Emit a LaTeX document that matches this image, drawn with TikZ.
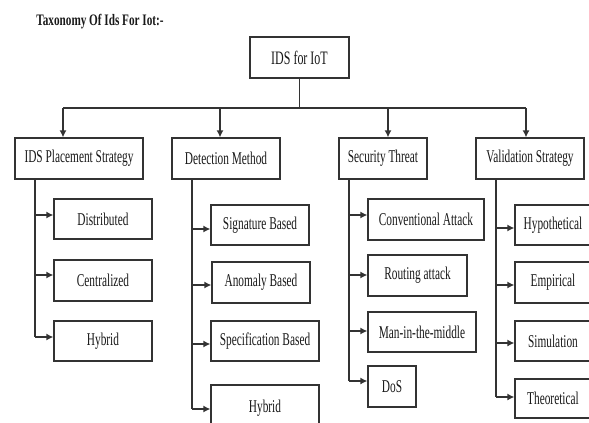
\documentclass[tikz,border=0pt]{standalone}
\usepackage{fontspec}
\setmainfont{Liberation Serif}
\usetikzlibrary{arrows.meta}
\newcommand\hs[1]{\scalebox{0.63}[1]{#1}}
\newcommand\brarrow[3]{\draw[arr] ([yshift=#3pt]#2.west -| #1) -- ([yshift=#3pt]#2.west);}
\tikzset{
  box/.style={draw=black!80, line width=1.3pt, fill=white, inner sep=0pt,
    text=black!90, font=\fontsize{18}{18}\selectfont},
  conn/.style={draw=black!80, line width=1.3pt},
  arr/.style={conn, -{Latex[length=7pt,width=7pt]}},
}
\begin{document}
\begin{tikzpicture}[x=1pt,y=-1pt]
\useasboundingbox (0,0) rectangle (589,423);
\clip (0,0) rectangle (589,423);
% title
\node[font=\fontsize{16}{16}\selectfont\bfseries, text=black!90] (title) at (100,22) {\scalebox{0.7}[1]{Taxonomy Of Ids For Iot:-}};
% root
\node[box, minimum width=99pt, minimum height=41pt, font=\fontsize{19}{19}\selectfont] (root) at (299.5,57.5) {\hs{IDS for IoT}};
% level 1
\node[box, minimum width=128pt, minimum height=41pt] (place) at (79,158.5) {\hs{IDS Placement Strategy}};
\node[box, minimum width=108pt, minimum height=41pt] (detect) at (226,158.5) {\hs{Detection Method}};
\node[box, minimum width=88pt, minimum height=41pt] (sec) at (383,158.5) {\hs{Security Threat}};
\node[box, minimum width=108pt, minimum height=41pt] (val) at (530,158.5) {\hs{Validation Strategy}};
% bus
\coordinate (b1) at (63,108);
\coordinate (b2) at (220,108);
\coordinate (b3) at (388,108);
\coordinate (b4) at (526,108);
\draw[conn] (root.south) -- (root.south |- b1);
\draw[conn] (b1) -- (b4);
\draw[arr] (b1) -- (b1 |- place.north);
\draw[arr] (b2) -- (b2 |- detect.north);
\draw[arr] (b3) -- (b3 |- sec.north);
\draw[arr] (b4) -- (b4 |- val.north);
% placement children
\node[box, minimum width=98pt, minimum height=40pt] (dist) at (103,219) {\hs{Distributed}};
\node[box, minimum width=98pt, minimum height=41pt] (cent) at (103,280.5) {\hs{Centralized}};
\node[box, minimum width=98pt, minimum height=40pt] (hyb1) at (103,341) {\hs{Hybrid}};
% detection children
\node[box, minimum width=98pt, minimum height=40pt] (sig) at (260,225) {\hs{Signature Based}};
\node[box, minimum width=98pt, minimum height=41pt] (anom) at (261,282.5) {\hs{Anomaly Based}};
\node[box, minimum width=108pt, minimum height=40pt] (spec) at (265,341) {\hs{Specification Based}};
\node[box, minimum width=108pt, minimum height=46pt] (hyb2) at (265,408) {\hs{Hybrid}};
% security children
\node[box, minimum width=116pt, minimum height=41pt] (conv) at (426,219.5) {\hs{Conventional Attack}};
\node[box, minimum width=99pt, minimum height=41pt] (rout) at (417.5,275.5) {\hs{Routing attack}};
\node[box, minimum width=108pt, minimum height=40pt] (mitm) at (422,332) {\hs{Man-in-the-middle}};
\node[box, minimum width=48pt, minimum height=41pt] (dos) at (392,386.5) {\hs{DoS}};
% validation children
\node[box, minimum width=76pt, minimum height=40pt] (hyp) at (553,225) {\hs{Hypothetical}};
\node[box, minimum width=76pt, minimum height=41pt] (emp) at (553,282.5) {\hs{Empirical}};
\node[box, minimum width=76pt, minimum height=40pt] (sim) at (553,341) {\hs{Simulation}};
\node[box, minimum width=76pt, minimum height=39pt] (theo) at (553,398.5) {\hs{Theoretical}};
% trunks
\coordinate (pv) at (35,337);
\coordinate (dv) at (192,409);
\coordinate (sv) at (349,381);
\coordinate (vv) at (496,397);
\draw[conn] (place.south -| pv) -- (pv);
\draw[conn] (detect.south -| dv) -- (dv);
\draw[conn] (sec.south -| sv) -- (sv);
\draw[conn] (val.south -| vv) -- (vv);
% branch arrows
\brarrow{pv}{dist}{4}
\brarrow{pv}{cent}{5.5}
\brarrow{pv}{hyb1}{4}
\brarrow{dv}{sig}{-4}
\brarrow{dv}{anom}{-2.5}
\brarrow{dv}{spec}{-3}
\brarrow{dv}{hyb2}{-1}
\brarrow{sv}{conv}{4.5}
\brarrow{sv}{rout}{0.5}
\brarrow{sv}{mitm}{1}
\brarrow{sv}{dos}{5.5}
\brarrow{vv}{hyp}{-3}
\brarrow{vv}{emp}{-2.5}
\brarrow{vv}{sim}{-2}
\brarrow{vv}{theo}{1.5}
\end{tikzpicture}
\end{document}
